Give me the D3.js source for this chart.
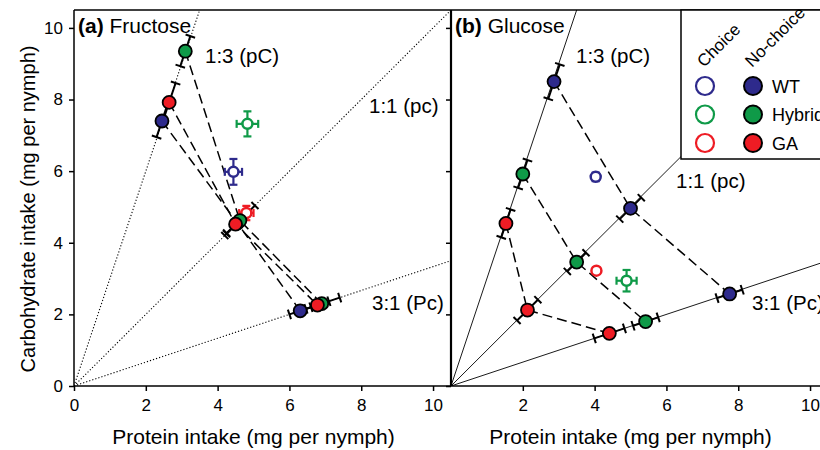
<!DOCTYPE html>
<html>
<head>
<meta charset="utf-8">
<script src="https://cdn.jsdelivr.net/npm/d3@7"></script>
<style>
  body { margin: 0; background: #fff; }
  svg text { font-family: "Liberation Sans", Arial, sans-serif; }
  .tick text { font-family: "Liberation Sans", Arial, sans-serif; font-size: 17px; }
</style>
</head>
<body>
<svg id="mainsvg" width="820" height="450"></svg>
<script>
// rails (protein:carb ratio) -> slope carb/protein
const rails = ['1:3', '1:1', '3:1'];
const railSlope = { '1:3': 3, '1:1': 1, '3:1': 1 / 3 };
const railLabels = ['1:3 (pC)', '1:1 (pc)', '3:1 (Pc)'];
const genotypes = ['WT', 'Hybrid', 'GA'];
const colors = { WT: '#2e2a8c', Hybrid: '#0f9a48', GA: '#ee1c24' };
const ticks = [0, 2, 4, 6, 8, 10];

// no-choice intakes: [protein, carbohydrate, se along rail (protein units)], order = rails
const fructoseNoChoice = {
    WT:     [[2.45, 7.40, 0.15], [4.55, 4.55, 0.30], [6.30, 2.10, 0.30]],
    Hybrid: [[3.10, 9.35, 0.14], [4.62, 4.62, 0.42], [6.90, 2.30, 0.50]],
    GA:     [[2.65, 7.92, 0.18], [4.50, 4.52, 0.25], [6.78, 2.26, 0.32]]
};
const glucoseNoChoice = {
    WT:     [[2.87, 8.50, 0.16], [5.00, 4.96, 0.30], [7.76, 2.57, 0.35]],
    Hybrid: [[2.00, 5.92, 0.13], [3.50, 3.46, 0.26], [5.42, 1.80, 0.35]],
    GA:     [[1.53, 4.54, 0.13], [2.13, 2.12, 0.29], [4.41, 1.47, 0.42]]
};
// choice: [protein, carbohydrate, se protein, se carbohydrate]
const fructoseChoice = {
    WT:     [4.44, 5.98, 0.24, 0.36],
    Hybrid: [4.83, 7.32, 0.30, 0.35],
    GA:     [4.80, 4.83, 0.20, 0.20]
};
const glucoseChoice = {
    WT:     [4.03, 5.84, 0.10, 0.12],
    Hybrid: [4.89, 2.94, 0.28, 0.30],
    GA:     [4.05, 3.22, 0.05, 0.05]
};

const svg = d3.select('#mainsvg');
const top0 = 10, bottom0 = 386;
const domainMax = 10.5;

const yScale = d3.scaleLinear().domain([0, domainMax]).range([bottom0, top0]);

const panels = [
    { id: 'a', bold: '(a)', name: ' Fructose', x0: 74, nc: fructoseNoChoice, ch: fructoseChoice,
      dash: '1.2,2', tickVals: ticks,
      labelPos: [[205, 63], [369, 113], [372, 310]] },
    { id: 'b', bold: '(b)', name: ' Glucose', x0: 451, nc: glucoseNoChoice, ch: glucoseChoice,
      dash: null, tickVals: ticks.slice(1),
      labelPos: [[576, 63], [676, 188], [752, 310]] }
];

const defs = svg.append('defs');

panels.forEach(p => {
    const xScale = d3.scaleLinear().domain([0, domainMax]).range([p.x0, p.x0 + 377]);
    const g = svg.append('g');

    defs.append('clipPath').attr('id', 'clip-' + p.id)
        .append('rect')
        .attr('x', xScale(0)).attr('y', yScale(domainMax))
        .attr('width', xScale(domainMax) - xScale(0))
        .attr('height', yScale(0) - yScale(domainMax));

    const clipped = g.append('g').attr('clip-path', `url(#clip-${p.id})`);

    // rails
    rails.forEach(r => {
        const s = railSlope[r];
        clipped.append('line')
            .attr('x1', xScale(0)).attr('y1', yScale(0))
            .attr('x2', xScale(20)).attr('y2', yScale(20 * s))
            .attr('stroke', '#000')
            .attr('stroke-width', p.dash ? 1.1 : 0.9)
            .attr('stroke-dasharray', p.dash);
    });

    // dashed connections
    const line = d3.line().x(d => xScale(d[0])).y(d => yScale(d[1]));
    genotypes.forEach(gt => {
        clipped.append('path')
            .attr('d', line(p.nc[gt]))
            .attr('fill', 'none')
            .attr('stroke', '#000')
            .attr('stroke-width', 1.5)
            .attr('stroke-dasharray', '10,5');
    });

    // error bars along rail for no-choice
    const capLen = 5;
    genotypes.forEach(gt => {
        p.nc[gt].forEach((d, i) => {
            const s = railSlope[rails[i]];
            const px1 = xScale(d[0] - d[2]), py1 = yScale(d[1] - d[2] * s);
            const px2 = xScale(d[0] + d[2]), py2 = yScale(d[1] + d[2] * s);
            g.append('line')
                .attr('x1', px1).attr('y1', py1).attr('x2', px2).attr('y2', py2)
                .attr('stroke', '#000').attr('stroke-width', 2);
            const dx = px2 - px1, dy = py2 - py1;
            const len = Math.hypot(dx, dy) || 1;
            const nx = -dy / len * capLen, ny = dx / len * capLen;
            [[px1, py1], [px2, py2]].forEach(c => {
                g.append('line')
                    .attr('x1', c[0] - nx).attr('y1', c[1] - ny)
                    .attr('x2', c[0] + nx).attr('y2', c[1] + ny)
                    .attr('stroke', '#000').attr('stroke-width', 2);
            });
        });
    });

    // choice points with error bars
    genotypes.forEach(gt => {
        const d = p.ch[gt];
        const cx = xScale(d[0]), cy = yScale(d[1]);
        const col = colors[gt];
        const xl = xScale(d[0] - d[2]), xr = xScale(d[0] + d[2]);
        const yt = yScale(d[1] + d[3]), yb = yScale(d[1] - d[3]);
        g.append('line').attr('x1', xl).attr('x2', xr).attr('y1', cy).attr('y2', cy)
            .attr('stroke', col).attr('stroke-width', 2.2);
        g.append('line').attr('x1', cx).attr('x2', cx).attr('y1', yt).attr('y2', yb)
            .attr('stroke', col).attr('stroke-width', 2.2);
        [xl, xr].forEach(x => g.append('line').attr('x1', x).attr('x2', x)
            .attr('y1', cy - 4).attr('y2', cy + 4).attr('stroke', col).attr('stroke-width', 2.2));
        [yt, yb].forEach(y => g.append('line').attr('y1', y).attr('y2', y)
            .attr('x1', cx - 4).attr('x2', cx + 4).attr('stroke', col).attr('stroke-width', 2.2));
        g.append('circle').attr('cx', cx).attr('cy', cy).attr('r', 5)
            .attr('fill', '#fff').attr('stroke', col).attr('stroke-width', 2.5);
    });

    // no-choice points
    genotypes.forEach(gt => {
        p.nc[gt].forEach(d => {
            g.append('circle')
                .attr('cx', xScale(d[0])).attr('cy', yScale(d[1])).attr('r', 6.5)
                .attr('fill', colors[gt]).attr('stroke', '#000').attr('stroke-width', 1.8);
        });
    });

    // rail labels
    railLabels.forEach((t, i) => {
        g.append('text').text(t)
            .attr('x', p.labelPos[i][0]).attr('y', p.labelPos[i][1])
            .attr('font-size', '20.5px');
    });

    // axes
    const xAxis = d3.axisBottom(xScale).tickValues(p.tickVals).tickSize(5).tickPadding(8)
        .tickFormat(d3.format('d'));
    const gx = g.append('g').attr('transform', `translate(0, ${bottom0})`).call(xAxis);
    gx.select('.domain').remove();
    gx.selectAll('.tick line').attr('stroke-width', 1.5);

    const yAxis = d3.axisLeft(yScale).tickValues(ticks).tickSize(5).tickPadding(6);
    const gy = g.append('g').attr('transform', `translate(${p.x0}, 0)`).call(yAxis);
    gy.select('.domain').remove();
    gy.selectAll('.tick line').attr('stroke-width', 1.5);
    if (p.id === 'b') gy.selectAll('.tick text').remove();

    // frame lines
    g.append('line').attr('x1', p.x0).attr('x2', p.x0).attr('y1', top0).attr('y2', bottom0)
        .attr('stroke', '#000').attr('stroke-width', p.id === 'b' ? 2.2 : 1.5);
    g.append('line').attr('x1', p.x0).attr('x2', xScale(domainMax)).attr('y1', bottom0).attr('y2', bottom0)
        .attr('stroke', '#000').attr('stroke-width', 1.5);
    g.append('line').attr('x1', p.x0).attr('x2', xScale(domainMax)).attr('y1', top0).attr('y2', top0)
        .attr('stroke', '#000').attr('stroke-width', 1.5);

    // panel title
    const title = g.append('text').attr('x', p.x0 + 4).attr('y', 33).attr('font-size', '21px');
    title.append('tspan').text(p.bold).attr('font-weight', 'bold');
    title.append('tspan').text(p.name);

    // x label
    g.append('text').text('Protein intake (mg per nymph)')
        .attr('x', xScale(5.0)).attr('y', 444)
        .attr('text-anchor', 'middle').attr('font-size', '21px');
});

// y label
svg.append('text').text('Carbohydrate intake (mg per nymph)')
    .attr('transform', 'translate(35, 209) rotate(-90)')
    .attr('text-anchor', 'middle').attr('font-size', '20px');

// legend
const lg = svg.append('g');
lg.append('rect').attr('x', 681).attr('y', 10).attr('width', 160).attr('height', 149)
    .attr('fill', '#fff').attr('stroke', '#000').attr('stroke-width', 1.5);
lg.append('text').text('Choice').attr('font-size', '17px')
    .attr('transform', 'translate(704, 68) rotate(-45)');
lg.append('text').text('No-choice').attr('font-size', '17px')
    .attr('transform', 'translate(752, 68) rotate(-45)');
genotypes.forEach((gt, i) => {
    const y = 86 + i * 28.5;
    lg.append('circle').attr('cx', 705).attr('cy', y).attr('r', 9)
        .attr('fill', '#fff').attr('stroke', colors[gt]).attr('stroke-width', 2.2);
    lg.append('circle').attr('cx', 753).attr('cy', y).attr('r', 9)
        .attr('fill', colors[gt]).attr('stroke', '#000').attr('stroke-width', 2);
    lg.append('text').text(gt).attr('x', 772).attr('y', y + 6.5).attr('font-size', '18px');
});
</script>
</body>
</html>
